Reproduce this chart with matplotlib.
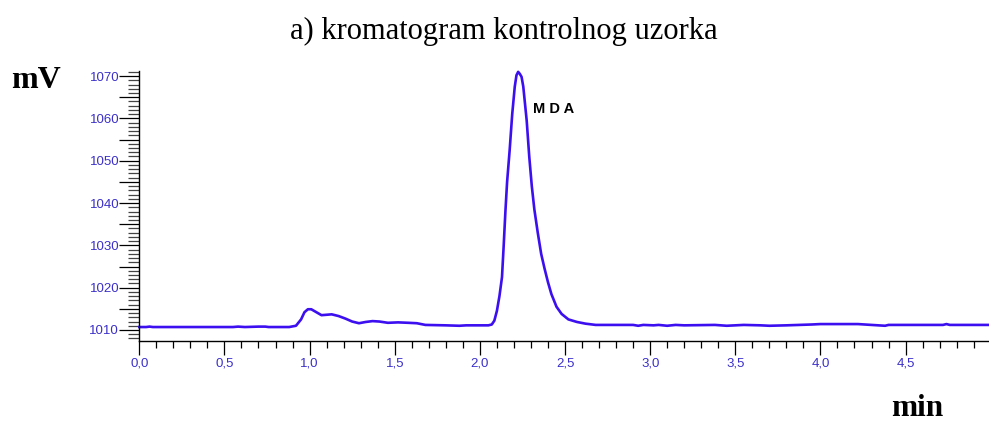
import matplotlib.pyplot as plt
from matplotlib.ticker import MultipleLocator, FuncFormatter

# retention time (min) and detector signal (mV)
time_min = [
    0.00, 0.04, 0.06, 0.08, 0.55, 0.58, 0.62, 0.70, 0.74, 0.76,
    0.88, 0.92, 0.95, 0.97, 0.99, 1.01, 1.04, 1.07, 1.10, 1.13,
    1.17, 1.21, 1.25, 1.29, 1.33, 1.37, 1.41, 1.46, 1.52, 1.58,
    1.63, 1.68, 1.80, 1.88, 1.92, 2.05, 2.07, 2.085, 2.10, 2.115,
    2.13, 2.14, 2.15, 2.16, 2.175, 2.19, 2.205, 2.215, 2.225, 2.235,
    2.245, 2.255, 2.265, 2.275, 2.29, 2.305, 2.32, 2.34, 2.36, 2.38,
    2.40, 2.42, 2.45, 2.48, 2.52, 2.57, 2.62, 2.68, 2.90, 2.93,
    2.96, 3.02, 3.05, 3.10, 3.15, 3.20, 3.38, 3.45, 3.55, 3.65,
    3.70, 3.80, 3.95, 4.00, 4.10, 4.22, 4.30, 4.38, 4.40, 4.72,
    4.74, 4.76, 4.99,
]
signal_mv = [
    1010.7, 1010.7, 1010.8, 1010.7, 1010.7, 1010.8, 1010.7, 1010.8, 1010.8, 1010.7,
    1010.7, 1011.0, 1012.5, 1014.2, 1014.9, 1014.9, 1014.2, 1013.5, 1013.6, 1013.7,
    1013.3, 1012.7, 1012.0, 1011.6, 1011.9, 1012.1, 1012.0, 1011.7, 1011.8, 1011.7,
    1011.6, 1011.2, 1011.1, 1011.0, 1011.1, 1011.1, 1011.3, 1012.2, 1014.5, 1018.0,
    1022.5, 1030.0, 1038.0, 1045.0, 1052.5, 1061.0, 1067.5, 1070.2, 1071.0, 1070.5,
    1069.8, 1067.5, 1063.5, 1059.5, 1051.0, 1044.0, 1038.5, 1033.0, 1028.0, 1024.5,
    1021.3, 1018.5, 1015.5, 1013.8, 1012.5, 1011.9, 1011.5, 1011.2, 1011.2, 1011.0,
    1011.2, 1011.1, 1011.2, 1011.0, 1011.2, 1011.1, 1011.2, 1011.0, 1011.2, 1011.1,
    1011.0, 1011.1, 1011.3, 1011.4, 1011.4, 1011.4, 1011.2, 1011.0, 1011.2, 1011.2,
    1011.4, 1011.2, 1011.2,
]

peak_label = "M D A"
peak_pos = (2.31, 1062.3)

line_color = "#3c0ff0"
label_color = "#3b2fc9"

fig = plt.figure(figsize=(9.89, 4.25), dpi=100)
ax = fig.add_axes([139.3 / 989, 1 - 341 / 425, 1 - 139.3 / 989, (341 - 71) / 425])

ax.plot(time_min, signal_mv, color=line_color, lw=1.9, clip_on=False)

ax.set_xlim(0, 4.99)
ax.set_ylim(1007.4, 1071.2)

for side in ("top", "right"):
    ax.spines[side].set_visible(False)
ax.spines["left"].set_linewidth(1.0)
ax.spines["bottom"].set_linewidth(1.0)

ax.xaxis.set_major_locator(MultipleLocator(0.5))
ax.xaxis.set_minor_locator(MultipleLocator(0.1))
ax.xaxis.set_major_formatter(FuncFormatter(lambda v, p: f"{v:.1f}".replace(".", ",")))
ax.yaxis.set_major_locator(MultipleLocator(5))
ax.yaxis.set_minor_locator(MultipleLocator(1))
ax.yaxis.set_major_formatter(FuncFormatter(lambda v, p: f"{v:.0f}" if round(v) % 10 == 0 else ""))

ax.tick_params(axis="x", which="major", length=10, width=0.9, pad=2,
               labelsize=9.5, labelcolor=label_color)
ax.tick_params(axis="x", which="minor", length=5, width=0.9)
ax.tick_params(axis="y", which="major", length=14.5, width=0.9, pad=0,
               labelsize=9.5, labelcolor=label_color)
ax.tick_params(axis="y", which="minor", length=8, width=0.9, color="#444444")
for lab in ax.get_xticklabels() + ax.get_yticklabels():
    lab.set_family("Liberation Sans")

ax.text(peak_pos[0], peak_pos[1], peak_label, fontsize=10.5, fontweight="bold",
        family="Liberation Sans", color="black", va="center", ha="left")

fig.text(504 / 989, 1 - 31 / 425, "a) kromatogram kontrolnog uzorka",
         family="Liberation Serif", fontsize=22, ha="center", va="center")
fig.text(36 / 989, 1 - 80 / 425, "mV", family="Liberation Serif", fontsize=23,
         fontweight="bold", ha="center", va="center")
fig.text(917 / 989, 1 - 409 / 425, "min", family="Liberation Serif", fontsize=22.5,
         fontweight="bold", ha="center", va="center")

fig.savefig("out.png", dpi=100)
